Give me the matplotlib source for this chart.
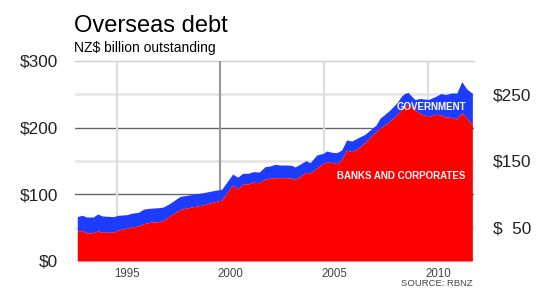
import matplotlib
matplotlib.use("Agg")
import matplotlib.pyplot as plt
import numpy as np

plt.rcParams['font.family'] = ['Liberation Sans', 'DejaVu Sans']

# --- data (NZ$ billion) ---
years = [1993.10, 1993.34, 1993.55, 1993.87, 1994.08, 1994.31, 1994.84, 1995.08,
         1995.48, 1995.72, 1996.04, 1996.32, 1996.60, 1997.00, 1997.25, 1997.57,
         1998.05, 1998.69, 1999.17, 1999.66, 2000.06, 2000.59, 2000.83, 2001.07,
         2001.34, 2001.58, 2001.87, 2002.15, 2002.39, 2002.63, 2002.87, 2003.11,
         2003.43, 2003.59, 2003.83, 2004.12, 2004.32, 2004.64, 2004.96, 2005.12,
         2005.36, 2005.60, 2005.84, 2006.08, 2006.33, 2006.64, 2006.97, 2007.21,
         2007.50, 2007.69, 2008.17, 2008.49, 2008.73, 2008.89, 2009.05, 2009.23,
         2009.38, 2009.62, 2010.02, 2010.34, 2010.63, 2010.85, 2011.14, 2011.39,
         2011.63, 2011.87, 2012.14]
total = [66.5, 68.6, 66.0, 66.0, 70.5, 67.5, 66.5, 68.6,
         69.5, 71.6, 73.1, 78.0, 79.1, 80.0, 81.0, 86.6,
         96.8, 100.1, 102.5, 105.5, 107.6, 130.5, 125.6, 131.6,
         131.6, 134.0, 133.5, 141.5, 142.5, 145.1, 144.0, 144.0,
         143.6, 141.0, 145.1, 150.5, 147.5, 159.0, 161.6, 165.0,
         163.1, 162.5, 166.5, 181.5, 180.0, 185.0, 190.1, 196.5,
         204.0, 214.1, 226.5, 237.0, 247.5, 251.6, 252.8, 246.5,
         242.3, 243.8, 242.3, 246.5, 251.3, 249.8, 252.0, 252.0,
         269.0, 258.0, 251.6]
banks = [44.0, 46.1, 42.0, 42.5, 45.0, 43.1, 43.1, 46.5,
         49.1, 51.0, 52.5, 56.0, 58.1, 59.0, 60.8, 67.5,
         77.3, 81.5, 84.0, 88.5, 91.1, 114.0, 108.0, 115.1,
         115.5, 118.1, 117.5, 122.6, 124.1, 125.0, 125.0, 125.0,
         124.5, 122.6, 126.5, 133.1, 132.0, 139.1, 146.6, 148.5,
         147.8, 146.0, 151.5, 166.5, 164.0, 169.1, 177.8, 185.3,
         194.3, 199.1, 210.0, 219.0, 226.5, 234.0, 234.0, 230.3,
         226.5, 221.3, 216.5, 220.1, 219.0, 216.0, 215.3, 213.0,
         222.5, 214.1, 204.0]

left_ticks = [0, 100, 200, 300]
left_labels = ["$0", "$100", "$200", "$300"]
right_ticks = [50, 150, 250]
right_labels = ["$  50", "$150", "$250"]
x_years = [1995, 2000, 2005, 2010]

RED = "#ff0000"
BLUE = "#1e3cff"

fig = plt.figure(figsize=(5.5, 3.0), dpi=100)
ax = fig.add_axes([75/550, 39/300, 399.3/550, 200/300])

x0 = 1995 + (75 - 116.7) / 20.75
x1 = 1995 + (474.3 - 116.7) / 20.75
ax.set_xlim(x0, x1)
ax.set_ylim(0, 300)

# gridlines
for v in [50, 150, 250]:
    ax.axhline(v, color="#e6e6e6", lw=2.0, zorder=0)
ax.axhline(300, color="#cccccc", lw=1.0, zorder=0, clip_on=False)
for v in [100, 200]:
    ax.axhline(v, color="#666666", lw=1.0, zorder=0)
ax.axhline(0, color="#aaaaaa", lw=1.0, zorder=0)
for yv in x_years:
    if yv == 2000:
        ax.axvline(yv, color="#999999", lw=1.5, zorder=0)
    else:
        ax.axvline(yv, color="#dddddd", lw=1.5, zorder=0)

# stacked areas
ax.fill_between(years, banks, total, color=BLUE, lw=0, zorder=2)
ax.fill_between(years, 0, banks, color=RED, lw=0, zorder=3)

for s in ax.spines.values():
    s.set_visible(False)

ax.set_yticks(left_ticks)
ax.set_yticklabels(left_labels, fontsize=12.4, color="#222222")
ax.tick_params(axis='y', length=0, pad=12)

ax.set_xticks([y + 0.5 for y in x_years])
ax.set_xticklabels([str(y) for y in x_years], fontsize=8.3, color="#444444")
ax.tick_params(axis='x', length=0, pad=5)

ax2 = ax.twinx()
ax2.set_ylim(0, 300)
ax2.set_yticks(right_ticks)
ax2.set_yticklabels(right_labels, fontsize=12.4, color="#222222")
ax2.tick_params(axis='y', length=0, pad=13.5)
for s in ax2.spines.values():
    s.set_visible(False)

# series labels
ax.text(2010.16, 230.5, "GOVERNMENT", color="white", fontsize=7, fontweight="bold",
        ha="center", va="center", zorder=5)
ax.text(2008.71, 128, "BANKS AND CORPORATES", color="white", fontsize=7,
        fontweight="bold", ha="center", va="center", zorder=5)

# titles
fig.text(74/550, 1 - 31.7/300, "Overseas debt", fontsize=17, color="#000000",
         ha="left", va="baseline")
fig.text(74/550, 1 - 51.7/300, "NZ$ billion outstanding", fontsize=10,
         color="#000000", ha="left", va="baseline")
fig.text(473/550, 1 - 284/300, "SOURCE: RBNZ", fontsize=6.8, color="#444444",
         ha="right", va="center")

fig.savefig("out.png", dpi=100)
